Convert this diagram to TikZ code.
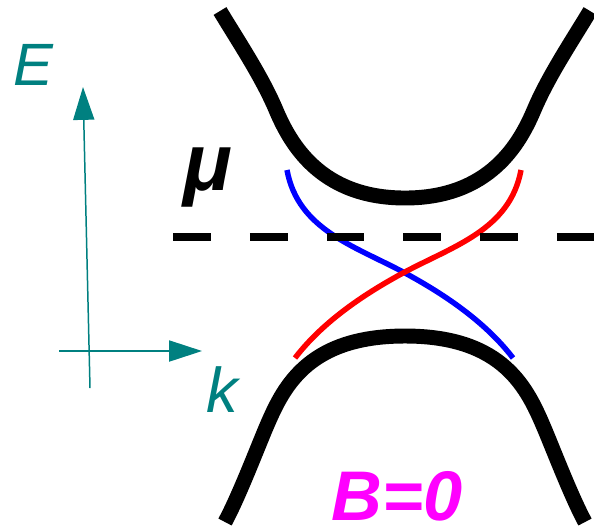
\documentclass[tikz,border=0pt]{standalone}
\usepackage{fontspec}
\setmainfont{Liberation Sans}
\usepackage{tikz}
\usetikzlibrary{arrows.meta}
\definecolor{AxisTeal}{RGB}{0,128,128}
\definecolor{BandMagenta}{RGB}{255,0,255}
\tikzset{
  band/.style={draw=black,line width=8.5pt},
  edgestate/.style={line width=3.1pt},
  axis/.style={draw=AxisTeal,line width=0.85pt,-{Triangle[length=18.7pt,width=12pt]}},
  level/.style={draw=black,line width=4pt,dash pattern=on 21.5pt off 22.2pt},
}
\tikzset{axlab/.style={text=AxisTeal,inner sep=0pt,font=\fontsize{34}{34}\selectfont\itshape},
  biglab/.style={inner sep=0pt,font=\fontsize{40}{40}\selectfont\bfseries\itshape}}

\begin{document}
\begin{tikzpicture}[x=0.02cm,y=-0.02cm]
\useasboundingbox (0,0) rectangle (594,529);
\coordinate (ebot) at (90,388);
\coordinate (etop) at (83,87);
\coordinate (kleft) at (59,351);
\coordinate (kright) at (202,351);
\coordinate (mustart) at (173,237);
\coordinate (muend) at (594,237);
% energy bands
\draw[band] (220,11) .. controls (240,44) and (262,77) .. (276,110)
  .. controls (290,143) and (320,198) .. (405,198)
  .. controls (490,198) and (520,143) .. (534,110)
  .. controls (548,77) and (570,44) .. (590,11);
\draw[band] (225,522) .. controls (238,498) and (255,454) .. (265,430)
  .. controls (282,390) and (305,336) .. (405,336)
  .. controls (505,336) and (528,390) .. (545,430)
  .. controls (555,454) and (572,498) .. (585,522);
% edge states
\draw[edgestate,blue] (287,170) .. controls (298,230) and (355,246) .. (405,273)
  .. controls (455,300) and (490,328) .. (513,358);
\draw[edgestate,red] (521,170) .. controls (510,230) and (453,246) .. (403,273)
  .. controls (353,300) and (318,328) .. (295,358);
\draw[level] (mustart)--(muend);
% axes
\draw[axis] (ebot)--(etop);
\draw[axis] (kleft)--(kright);
\node[axlab,anchor=base west] (elab) at (13,85) {E};
\node[axlab,anchor=base west,font=\fontsize{36}{36}\selectfont\itshape] (klab) at (206,412) {k};
\node[biglab,anchor=base west,font=\fontsize{46}{46}\selectfont\bfseries\itshape] (mulab) at (183,190) {μ};
\node[biglab,anchor=base west,text=BandMagenta] (blab) at (331,520) {B=0};
\end{tikzpicture}
\end{document}
